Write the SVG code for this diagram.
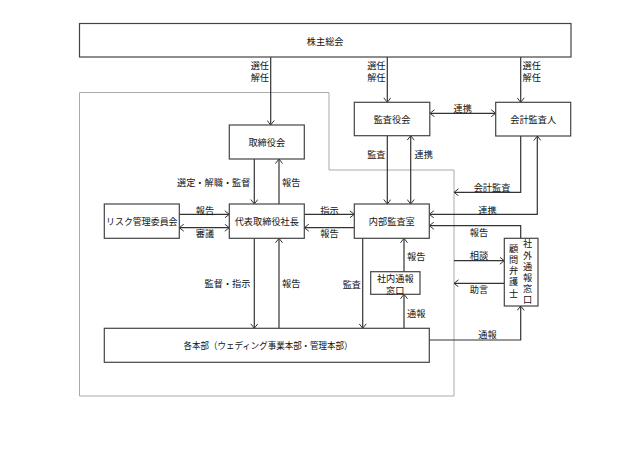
<svg xmlns="http://www.w3.org/2000/svg" width="641" height="466" viewBox="0 0 641 466">
<defs>
<marker id="a" viewBox="0 0 6 8" refX="5" refY="4" markerWidth="6" markerHeight="8" markerUnits="userSpaceOnUse" orient="auto-start-reverse">
<path d="M0.5,0.5 L5,4 L0.5,7.5" fill="none" stroke="#333" stroke-width="1"/>
</marker>
<style>
.b{fill:#fff;stroke:#444;stroke-width:1.2}
text{font-family:"Noto Sans CJK JP","Noto Sans CJK SC",sans-serif;font-size:9.2px;fill:#111;dominant-baseline:central}
.c{text-anchor:middle}
.e{text-anchor:end}
.v{writing-mode:vertical-rl;letter-spacing:2px;text-anchor:middle}
.ln{fill:none;stroke:#333;stroke-width:1.2}
.ar{marker-end:url(#a)}
.da{marker-start:url(#a);marker-end:url(#a)}
</style>
</defs>
<rect width="641" height="466" fill="#fff"/>
<path id="frame" d="M79.5,92.5 H329 V170 H454 V396 H79.5 Z" fill="none" stroke="#aaa" stroke-width="1"/>

<g id="connectors">
<line class="ln ar" x1="270.7" y1="57" x2="270.7" y2="125"/>
<line class="ln ar" x1="387.3" y1="57" x2="387.3" y2="102.3"/>
<line class="ln ar" x1="520.7" y1="57" x2="520.7" y2="102.3"/>
<line class="ln ar" x1="254.3" y1="159" x2="254.3" y2="204"/>
<line class="ln ar" x1="279" y1="204" x2="279" y2="159"/>
<line class="ln da" x1="430" y1="113.3" x2="495.7" y2="113.3"/>
<line class="ln ar" x1="387.3" y1="135.7" x2="387.3" y2="204"/>
<line class="ln da" x1="410.7" y1="135.7" x2="410.7" y2="204"/>
<polyline class="ln ar" points="520.7,136 520.7,192.3 454,192.3"/>
<polyline class="ln da" points="537.3,136 537.3,214.3 429.3,214.3"/>
<polyline class="ln ar" points="520.7,238.3 520.7,225.7 429.3,225.7"/>
<line class="ln ar" x1="179.3" y1="214.3" x2="229.3" y2="214.3"/>
<line class="ln da" x1="179.3" y1="227.7" x2="229.3" y2="227.7"/>
<line class="ln ar" x1="304.3" y1="214.3" x2="354.3" y2="214.3"/>
<line class="ln ar" x1="354.3" y1="227.7" x2="304.3" y2="227.7"/>
<line class="ln ar" x1="254.3" y1="238.3" x2="254.3" y2="328.3"/>
<line class="ln ar" x1="279" y1="328.3" x2="279" y2="238.3"/>
<line class="ln ar" x1="362.7" y1="238.3" x2="362.7" y2="328.3"/>
<line class="ln ar" x1="404" y1="271.7" x2="404" y2="238.3"/>
<line class="ln ar" x1="404" y1="328.3" x2="404" y2="294.3"/>
<polyline class="ln ar" points="429.3,340 520.7,340 520.7,306"/>
<line class="ln ar" x1="454" y1="260.7" x2="504.3" y2="260.7"/>
<line class="ln ar" x1="504.3" y1="283.3" x2="454" y2="283.3"/>
</g>

<g id="labels">
<text class="e" x="269" y="65.3">選任</text>
<text class="e" x="269" y="77">解任</text>
<text class="e" x="385.5" y="65.3">選任</text>
<text class="e" x="385.5" y="77">解任</text>
<text x="522.5" y="65.3">選任</text>
<text x="522.5" y="77">解任</text>
<text class="e" x="250.5" y="182">選定・解職・監督</text>
<text x="282" y="182">報告</text>
<text class="c" x="462.7" y="108">連携</text>
<text class="e" x="385.5" y="154.3">監査</text>
<text x="414.5" y="154.3">連携</text>
<text class="c" x="492" y="186.7">会計監査</text>
<text class="c" x="487.5" y="209.5">連携</text>
<text class="c" x="479" y="232.3">報告</text>
<text class="c" x="205" y="209.5">報告</text>
<text class="c" x="205" y="233.3">審議</text>
<text class="c" x="329.5" y="209.5">指示</text>
<text class="c" x="329.5" y="233.3">報告</text>
<text class="e" x="250.5" y="283.3">監督・指示</text>
<text x="282" y="283.3">報告</text>
<text class="e" x="361" y="284">監査</text>
<text x="407" y="255.7">報告</text>
<text x="407" y="312.7">通報</text>
<text class="c" x="487.5" y="334">通報</text>
<text class="c" x="479" y="255">相談</text>
<text class="c" x="479" y="289">助言</text>
</g>

<g id="shareholders"><rect class="b" x="79.5" y="23.5" width="491.5" height="33.5"/><text class="c" x="325.2" y="40.5">株主総会</text></g>
<g id="board"><rect class="b" x="229.3" y="125" width="75" height="34"/><text class="c" x="266.8" y="142">取締役会</text></g>
<g id="auditors"><rect class="b" x="354.3" y="102.3" width="75.5" height="33.4"/><text class="c" x="392" y="119">監査役会</text></g>
<g id="accounting"><rect class="b" x="495.7" y="102.3" width="75" height="33.7"/><text class="c" x="533.2" y="119">会計監査人</text></g>
<g id="risk"><rect class="b" x="104.3" y="204" width="75" height="34.3"/><text class="c" x="141.8" y="221" textLength="71.5" lengthAdjust="spacingAndGlyphs">リスク管理委員会</text></g>
<g id="president"><rect class="b" x="229.3" y="204" width="75" height="34.3"/><text class="c" x="266.8" y="221">代表取締役社長</text></g>
<g id="internal-audit"><rect class="b" x="354.3" y="204" width="75" height="34.3"/><text class="c" x="391.8" y="221">内部監査室</text></g>
<g id="internal-desk"><rect class="b" x="370.7" y="271.7" width="49.3" height="22.6"/><text class="c" x="395.3" y="278">社内通報</text><text class="c" x="395.3" y="289.5">窓口</text></g>
<g id="divisions"><rect class="b" x="104.3" y="328.3" width="325" height="34"/><text class="c" x="268" y="345.3" textLength="169" lengthAdjust="spacingAndGlyphs">各本部（ウェディング事業本部・管理本部）</text></g>
<g id="external-desk"><rect class="b" x="504.3" y="238.3" width="33.7" height="67.7"/>
<text class="v" x="527.5" y="273">社外通報窓口</text>
<text class="v" x="513.5" y="271.7">顧問弁護士</text>
</g>
</svg>
